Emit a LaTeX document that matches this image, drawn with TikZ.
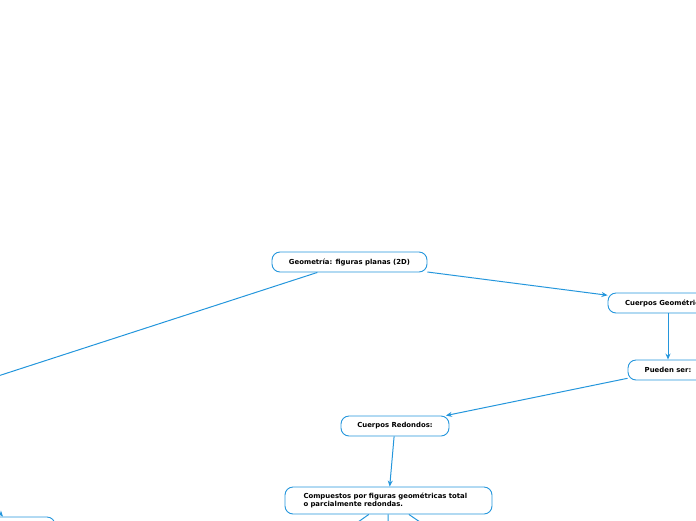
\documentclass[tikz,border=0pt]{standalone}
\usepackage{fontspec}
\setmainfont{DejaVu Sans}
\usepackage{xcolor}
\usepackage{tikz}
\usetikzlibrary{arrows.meta}
\definecolor{mapline}{RGB}{36,150,220}
\tikzset{
    topic/.style={rectangle, rounded corners=8pt, draw=mapline, fill=white, line width=0.9pt, minimum height=20pt, text centered, font=\bfseries\fontsize{6.9}{8.4}\selectfont},
    link/.style={-{Stealth[length=6pt, width=5pt]}, draw=mapline, line width=1pt}
}
\begin{document}
\begin{tikzpicture} [
    x=1pt, y=-1pt
]
    \useasboundingbox (0,0) rectangle (696,520);
    \clip (0,0) rectangle (696,520);

    % Central topic
    \node[topic, minimum width=155pt] (geometria) at (349.5,262) {Geometría: figuras planas (2D)};

    % Right branch
    \node[topic, minimum width=120pt] (cuerpos) at (668,303) {Cuerpos Geométricos:};
    \node[topic, minimum width=80pt] (pueden) at (668,370) {Pueden ser:};
    \node[topic, minimum width=108pt] (redondos) at (395,426) {Cuerpos Redondos:};
    \node[topic, minimum width=207pt, minimum height=27pt, text width=170pt, align=left] (compuestos) at (388.5,500.5) {Compuestos por figuras geométricas total\\o parcialmente redondas.};

    % Left branch (outside the visible area)
    \coordinate (planas) at (-150,424);
    \coordinate (poligonos) at (-20,490);
    \node[topic, minimum width=86pt] (bottomleft) at (12,527) {};

    % Children of compuestos (below the visible area)
    \coordinate (hijoa) at (300,563);
    \coordinate (hijob) at (387,570);
    \coordinate (hijoc) at (480,563);

    % Links
    \draw[link] (geometria) -- (cuerpos);
    \draw[link] (cuerpos) -- (pueden);
    \draw[link] (pueden) -- (redondos);
    \draw[link] (redondos) -- (compuestos);
    \draw[link] (geometria) -- (planas);
    \draw[link] (poligonos) -- (bottomleft);
    \draw[link] (compuestos) -- (hijoa);
    \draw[link] (compuestos) -- (hijob);
    \draw[link] (compuestos) -- (hijoc);
\end{tikzpicture}
\end{document}
